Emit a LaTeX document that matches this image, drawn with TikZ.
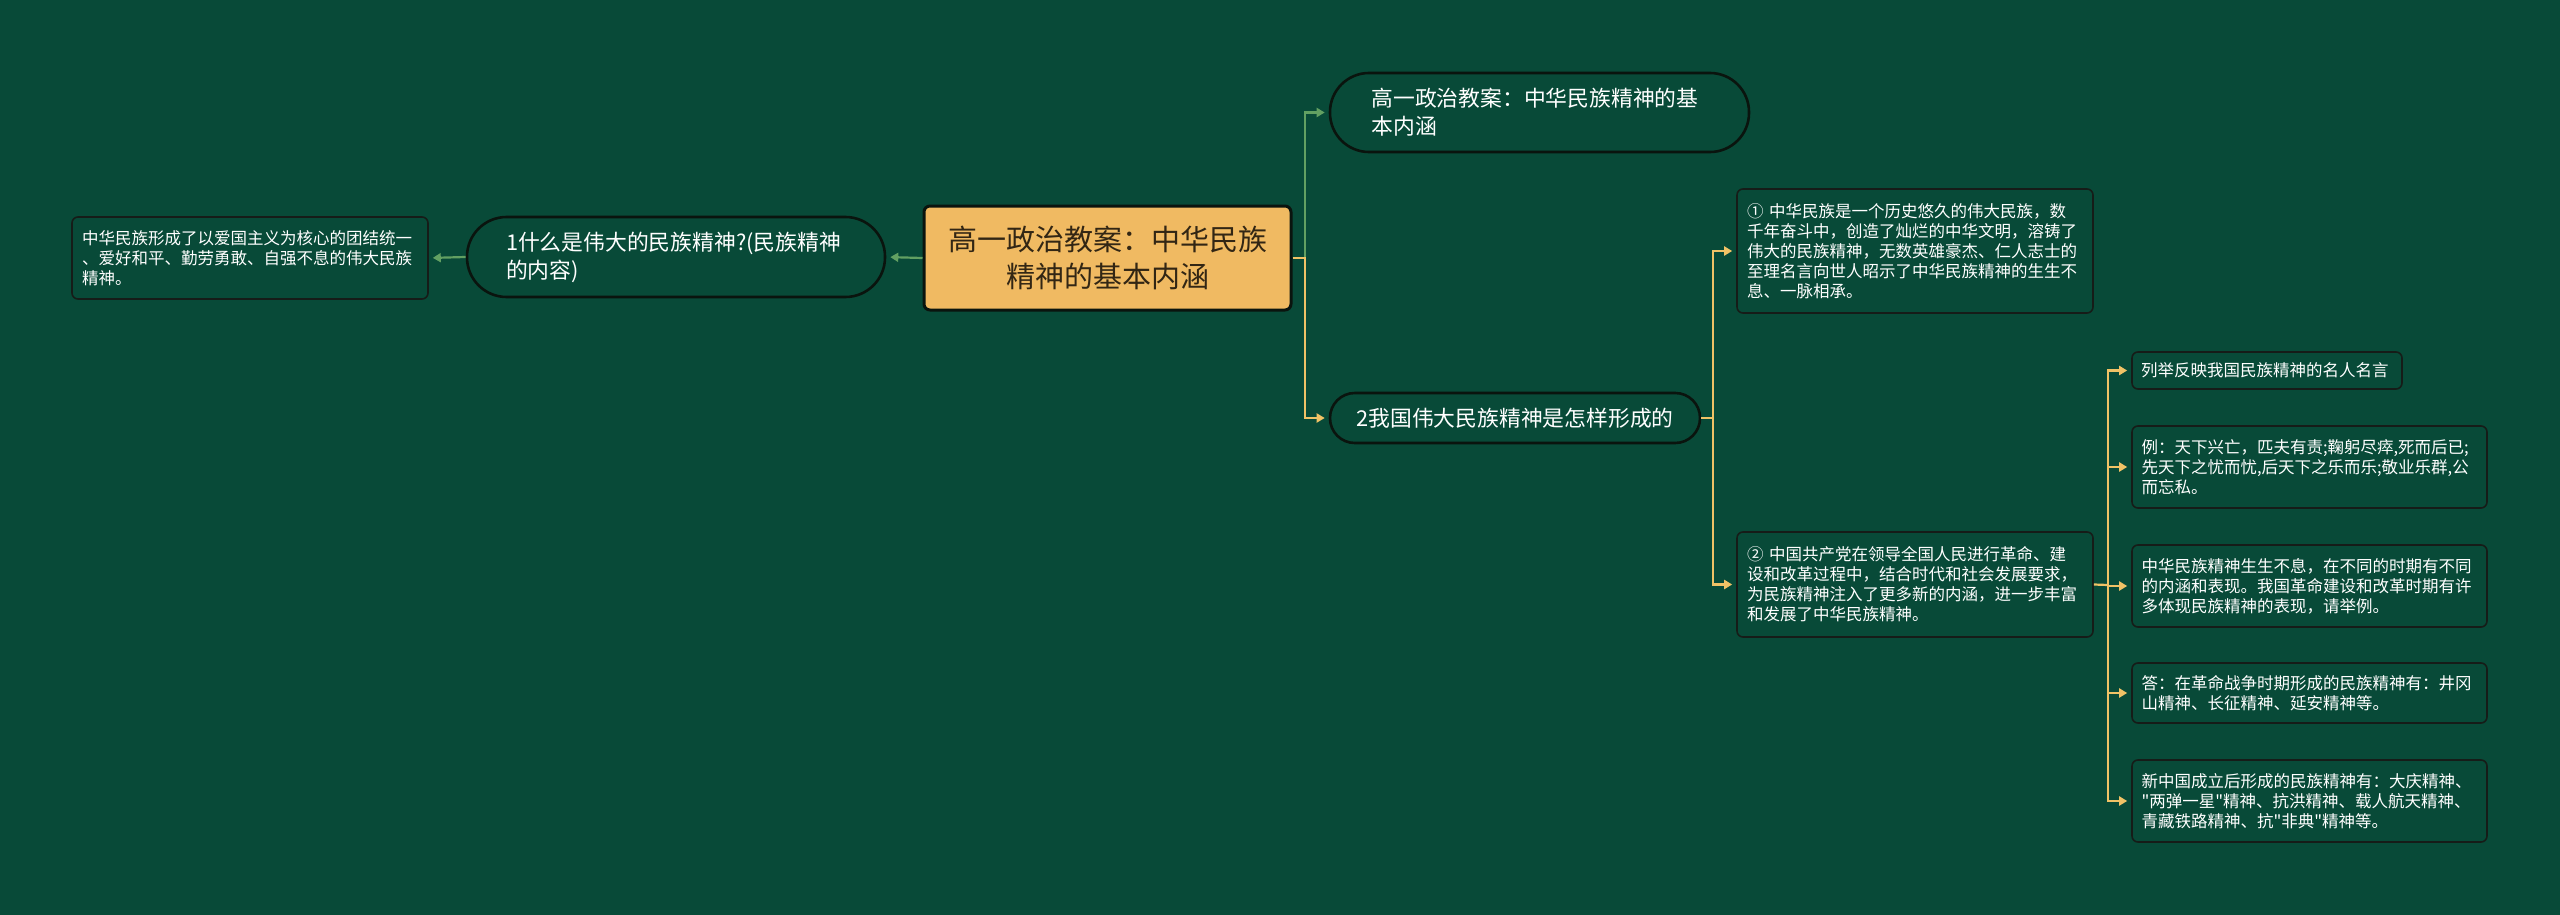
\documentclass[tikz,border=0pt]{standalone}
\usepackage{fontspec}
\setmainfont{Noto Sans CJK SC}
\newfontfamily\qfont{Noto Sans CJK SC}
\usetikzlibrary{arrows.meta}
\definecolor{bg}{RGB}{8,74,56}
\definecolor{cfill}{RGB}{240,186,98}
\definecolor{ctext}{RGB}{50,38,20}
\definecolor{pborder}{RGB}{10,20,14}
\definecolor{lborder}{RGB}{22,28,24}
\definecolor{gcol}{RGB}{98,160,98}
\definecolor{ycol}{RGB}{240,194,102}
\newcommand{\dq}{{\qfont\symbol{34}}}
\begin{document}
\begin{tikzpicture}[x=0.5pt,y=-0.5pt,
  centralbox/.style={draw=pborder, line width=1.5pt, fill=cfill, rounded corners=3pt,
    minimum width=183.5pt, minimum height=52pt, inner sep=0pt, text width=170pt,
    align=center, text=ctext, font=\fontsize{14.5pt}{18.5pt}\selectfont},
  pillbox/.style={draw=pborder, line width=1.3pt, fill=bg, inner sep=0pt, text=white,
    font=\fontsize{10.9pt}{14pt}\selectfont},
  leafbox/.style={draw=lborder, line width=0.8pt, fill=bg, rounded corners=3pt,
    inner sep=0pt, text=white, align=left, font=\fontsize{8.25pt}{10pt}\selectfont},
  tip/.style={-{Triangle[length=4pt,width=4.5pt]}, shorten >=2pt},
  gline/.style={draw=gcol, line width=1.1pt},
  yline/.style={draw=ycol, line width=1.1pt}]
\fill[bg] (0,0) rectangle (2560,915);
\useasboundingbox (0,0) rectangle (2560,915);

\node[centralbox] (c) at (1107.5,258) {高一政治教案：中华民族\\精神的基本内涵};

\node[pillbox, rounded corners=19.5pt, minimum width=209.5pt, minimum height=39.5pt,
  text width=168pt, align=left] (t) at (1539.5,112.5)
  {高一政治教案：中华民族精神的基\\本内涵};
\node[pillbox, rounded corners=19.8pt, minimum width=209pt, minimum height=40pt,
  text width=170pt, align=left] (n1) at (676,257)
  {1什么是伟大的民族精神?(民族精神\\的内容)};
\node[pillbox, rounded corners=12.4pt, minimum width=185pt, minimum height=25pt,
  align=center] (n2) at (1515,418) {2我国伟大民族精神是怎样形成的};

\node[leafbox, minimum width=178pt, minimum height=41pt, text width=168pt] (ll) at (250,258)
  {中华民族形成了以爱国主义为核心的团结统一\\、爱好和平、勤劳勇敢、自强不息的伟大民族\\精神。};

\node[leafbox, minimum width=178pt, minimum height=62pt, text width=168pt] (l1) at (1915,251)
  {① 中华民族是一个历史悠久的伟大民族，数\\千年奋斗中，创造了灿烂的中华文明，溶铸了\\伟大的民族精神，无数英雄豪杰、仁人志士的\\至理名言向世人昭示了中华民族精神的生生不\\息、一脉相承。};
\node[leafbox, minimum width=178pt, minimum height=52.5pt, text width=168pt] (l2) at (1915,584.5)
  {② 中国共产党在领导全国人民进行革命、建\\设和改革过程中，结合时代和社会发展要求，\\为民族精神注入了更多新的内涵，进一步丰富\\和发展了中华民族精神。};

\node[leafbox, minimum width=135pt, minimum height=18.5pt, text width=126pt] (a) at (2267,370.5)
  {列举反映我国民族精神的名人名言};
\node[leafbox, minimum width=177.5pt, minimum height=41pt, text width=168pt] (b) at (2309.5,467)
  {例：天下兴亡，匹夫有责;鞠躬尽瘁,死而后已;\\先天下之忧而忧,后天下之乐而乐;敬业乐群,公\\而忘私。};
\node[leafbox, minimum width=177.5pt, minimum height=41pt, text width=168pt] (cc) at (2309.5,586)
  {中华民族精神生生不息，在不同的时期有不同\\的内涵和表现。我国革命建设和改革时期有许\\多体现民族精神的表现，请举例。};
\node[leafbox, minimum width=177.5pt, minimum height=30pt, text width=168pt] (d) at (2309.5,693)
  {答：在革命战争时期形成的民族精神有：井冈\\山精神、长征精神、延安精神等。};
\node[leafbox, minimum width=177.5pt, minimum height=41pt, text width=168pt] (e) at (2309.5,801)
  {新中国成立后形成的民族精神有：大庆精神、\\\dq 两弹一星\dq 精神、抗洪精神、载人航天精神、\\青藏铁路精神、抗\dq 非典\dq 精神等。};

\coordinate (j1) at (1305,258);
\coordinate (j2) at (1713,418);
\coordinate (j3) at (2108,585);

\draw[gline, tip] (c.west) -- (n1.east);
\draw[gline, tip] (n1.west) -- (ll.east);
\draw[gline, tip] (j1) |- (t.west);
\draw[yline, tip] (c.east) -- (j1) |- (n2.west);
\draw[yline] (n2.east) -- (j2);
\draw[yline, tip] (j2) |- (l1.west);
\draw[yline, tip] (j2) |- (l2.west);
\draw[yline] (l2.east) -- (j3);
\draw[yline, tip] (j3) |- (a.west);
\draw[yline, tip] (j3) |- (b.west);
\draw[yline, tip] (j3) |- (cc.west);
\draw[yline, tip] (j3) |- (d.west);
\draw[yline, tip] (j3) |- (e.west);
\end{tikzpicture}
\end{document}
